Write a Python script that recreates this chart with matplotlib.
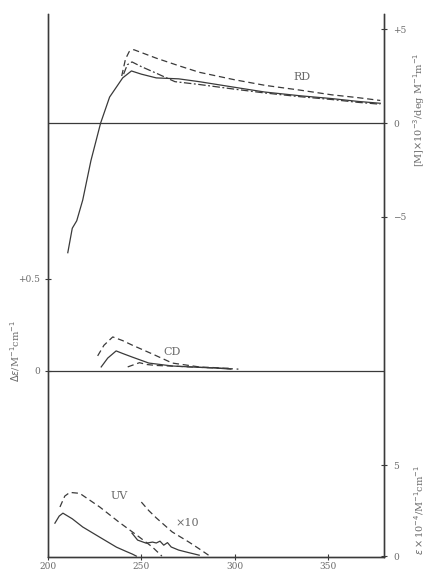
import numpy as np
import matplotlib.pyplot as plt

plt.rcParams['font.family'] = ['DejaVu Serif']

# --- RD (right axis, [M] x 10^-3) ---
rd_solid_x = [210.6, 213, 215.4, 218.6, 223, 228.2, 233, 240, 244.7, 250, 258, 270, 281, 300, 316, 335, 352, 366, 378]
rd_solid_y = [-6.9, -5.6, -5.2, -4.1, -2.0, 0.0, 1.38, 2.4, 2.77, 2.6, 2.4, 2.35, 2.2, 1.9, 1.65, 1.45, 1.3, 1.15, 1.05]
rd_dash_x = [239.5, 241.5, 243.5, 246, 250, 258, 270, 281, 300, 316.5, 335, 352, 366, 378]
rd_dash_y = [2.5, 3.4, 3.8, 3.9, 3.75, 3.45, 3.05, 2.7, 2.3, 2.0, 1.75, 1.5, 1.35, 1.2]
rd_dd_x = [240.5, 242.5, 245, 250, 258, 268, 281, 300, 316, 335, 352, 366, 378]
rd_dd_y = [2.6, 3.1, 3.25, 3.0, 2.65, 2.2, 2.05, 1.8, 1.6, 1.4, 1.25, 1.1, 1.0]

# --- CD (left axis, delta epsilon) ---
cd_dash_x = [226.6, 230, 234.7, 240, 245, 256, 266.6, 281, 298]
cd_dash_y = [0.082, 0.14, 0.185, 0.165, 0.141, 0.092, 0.043, 0.022, 0.014]
cd_solid_x = [228.5, 232, 236.5, 240, 245, 254, 266.6, 280, 290, 298]
cd_solid_y = [0.022, 0.07, 0.109, 0.095, 0.076, 0.043, 0.027, 0.02, 0.016, 0.01]
cd_dd_x = [242.7, 249, 253, 258, 270, 281, 292, 302]
cd_dd_y = [0.022, 0.045, 0.035, 0.03, 0.025, 0.02, 0.015, 0.01]

# --- UV (right axis, epsilon x 10^-4) ---
uv_solid_x = [203.7, 206, 208, 213, 218.6, 227.7, 236.7, 242, 245.2, 247.3]
uv_solid_y = [1.81, 2.2, 2.36, 2.05, 1.6, 1.04, 0.49, 0.25, 0.11, 0.0]
uv_dash_x = [206.4, 209, 211.7, 217, 222, 227.7, 238, 249, 256, 261]
uv_dash_y = [2.7, 3.3, 3.5, 3.45, 3.1, 2.7, 1.87, 1.04, 0.49, 0.0]
uv10_dash_x = [250, 254, 258, 266.5, 275.5, 281, 286]
uv10_dash_y = [2.97, 2.5, 2.1, 1.33, 0.77, 0.4, 0.05]
uv10_solid_x = [245, 248, 252.6, 256, 258, 260, 262, 264, 266, 270, 275, 281]
uv10_solid_y = [1.26, 0.88, 0.71, 0.77, 0.72, 0.82, 0.6, 0.74, 0.5, 0.33, 0.2, 0.05]

rd_ticks = [5, 0, -5]
rd_ticklabels = ['+5', '0', '\u22125']
cd_ticks = [0.5, 0]
cd_ticklabels = ['+0.5', '0']
uv_ticks = [5, 0]
uv_ticklabels = ['5', '0']
x_ticks = [200, 250, 300, 350]

ink = '#3a3a3a'
txt = '#6a6a6a'
lw = 0.9
dash = (0, (5, 3))
dashdot = (0, (6, 2, 1.5, 2))

fig = plt.figure(figsize=(4.26, 5.72), dpi=100)
rect = [48 / 426, 15 / 572, 336 / 426, 543 / 572]
ax = fig.add_axes(rect)          # CD axis (left)
ax_rd = ax.twinx()               # RD axis (right, top part)
ax_uv = ax.twinx()               # UV axis (right, bottom part)

ax.set_xlim(200, 380)
ax.set_ylim(-1.011, 1.940)
ax_rd.set_ylim(-23.09, 5.80)
ax_uv.set_ylim(-0.05, 29.8)

for a in (ax, ax_rd, ax_uv):
    a.spines['top'].set_visible(False)
    for s in a.spines.values():
        s.set_color(ink)
        s.set_linewidth(0.9)
    a.patch.set_visible(False)

# RD curves
ax_rd.plot(rd_solid_x, rd_solid_y, color=ink, lw=lw)
ax_rd.plot(rd_dash_x, rd_dash_y, color=ink, lw=lw, linestyle=dash)
ax_rd.plot(rd_dd_x, rd_dd_y, color=ink, lw=lw, linestyle=dashdot)
ax_rd.axhline(0, color=ink, lw=0.9)

# CD curves
ax.plot(cd_dash_x, cd_dash_y, color=ink, lw=lw, linestyle=dash)
ax.plot(cd_solid_x, cd_solid_y, color=ink, lw=lw)
ax.plot(cd_dd_x, cd_dd_y, color=ink, lw=lw, linestyle=dash)
ax.axhline(0, color=ink, lw=0.9)

# UV curves
ax_uv.plot(uv_solid_x, uv_solid_y, color=ink, lw=lw)
ax_uv.plot(uv_dash_x, uv_dash_y, color=ink, lw=lw, linestyle=dash)
ax_uv.plot(uv10_dash_x, uv10_dash_y, color=ink, lw=lw, linestyle=dash)
ax_uv.plot(uv10_solid_x, uv10_solid_y, color=ink, lw=lw)

# ticks
tick_kw = dict(direction='inout', length=5, width=0.8, colors=ink, labelcolor=txt, labelsize=6.5)
ax.set_xticks(x_ticks)
ax.tick_params(axis='x', pad=1, **tick_kw)
ax.set_yticks(cd_ticks)
ax.set_yticklabels(cd_ticklabels)
ax.tick_params(axis='y', pad=3, **tick_kw)
ax_rd.set_yticks(rd_ticks)
ax_rd.set_yticklabels(rd_ticklabels)
ax_rd.tick_params(axis='y', pad=4, **tick_kw)
ax_uv.set_yticks(uv_ticks)
ax_uv.set_yticklabels(uv_ticklabels)
ax_uv.tick_params(axis='y', pad=4, **tick_kw)

# curve labels
ax_rd.text(336, 2.45, 'RD', fontsize=8, color=txt, ha='center', va='center')
ax.text(266.5, 0.103, 'CD', fontsize=8, color=txt, ha='center', va='center')
ax_uv.text(238.3, 3.3, 'UV', fontsize=8, color=txt, ha='center', va='center')
ax_uv.text(274.5, 1.81, '\u00d710', fontsize=8, color=txt, ha='center', va='center')

# axis labels
fig.text(15 / 426, 1 - 351 / 572, r'$\Delta\varepsilon$/M$^{-1}$cm$^{-1}$', rotation=90,
         fontsize=7, color=txt, ha='center', va='center')
fig.text(419 / 426, 1 - 110 / 572, r'[M]$\times$10$^{-3}$/deg M$^{-1}$m$^{-1}$', rotation=90,
         fontsize=7, color=txt, ha='center', va='center')
fig.text(419 / 426, 1 - 510 / 572, r'$\varepsilon\times$10$^{-4}$/M$^{-1}$cm$^{-1}$', rotation=90,
         fontsize=7, color=txt, ha='center', va='center')

fig.savefig('out.png', dpi=100)
